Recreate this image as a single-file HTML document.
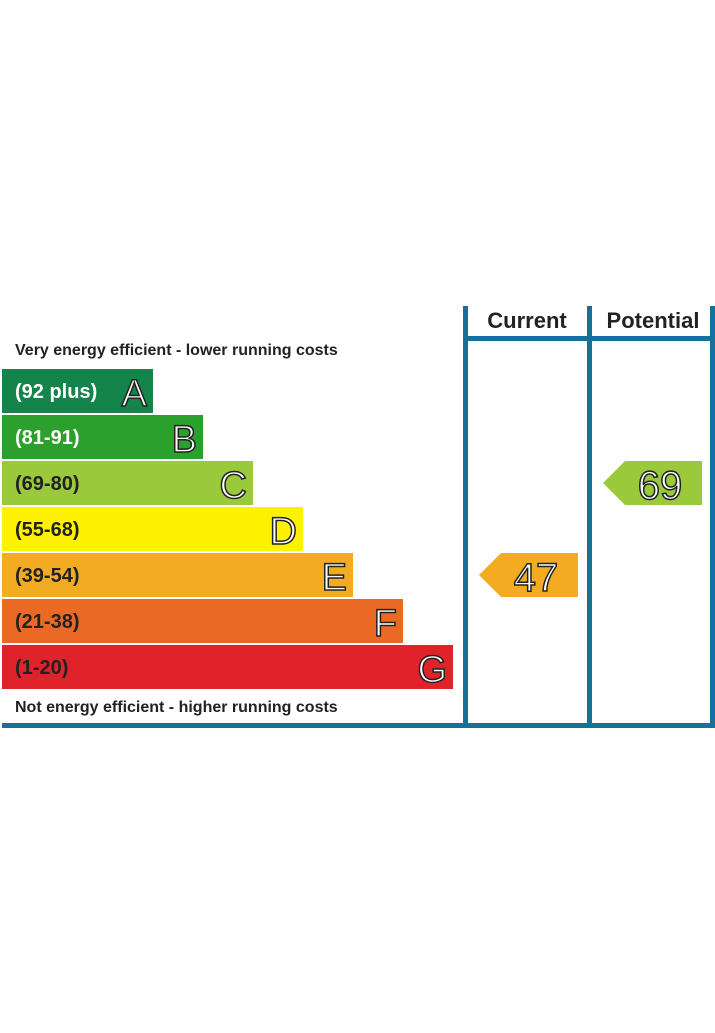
<!DOCTYPE html>
<html><head><meta charset="utf-8"><style>
html,body{margin:0;padding:0;background:#fff;}
svg{display:block;font-family:"Liberation Sans",Arial,sans-serif;}
</style></head><body>
<svg id="c" width="715" height="1033" viewBox="0 0 715 1033">
<g fill="#17709b">
<rect x="463" y="306" width="5" height="422"/>
<rect x="587" y="306" width="5" height="422"/>
<rect x="710" y="306" width="5" height="422"/>
<rect x="463" y="336" width="252" height="5"/>
<rect x="2" y="723" width="713" height="5"/>
</g>
<text x="527" y="328" text-anchor="middle" font-size="22" font-weight="bold" fill="#222">Current</text>
<text x="653" y="328" text-anchor="middle" font-size="22" font-weight="bold" fill="#222">Potential</text>
<text x="15" y="355" font-size="16" font-weight="bold" fill="#222">Very energy efficient - lower running costs</text>
<text x="15" y="712" font-size="16" font-weight="bold" fill="#222">Not energy efficient - higher running costs</text>
<g id="bands"></g>
<g id="arrows"></g>
</svg>
<script>
const letters=["A","B","C","D","E","F","G"];
const ranges=["(92 plus)","(81-91)","(69-80)","(55-68)","(39-54)","(21-38)","(1-20)"];
const mins=[92,81,69,55,39,21,1];
const colors=["#14844a","#2ca02c","#9bc93c","#fff200","#f3ac22","#ea6a25","#e0232b"];
const currentValue=47;
const potentialValue=69;
const ns="http://www.w3.org/2000/svg";
const bands=document.getElementById('bands'),arrows=document.getElementById('arrows');
function rowY(i){return 369+i*46;}
function barW(i){return 151+i*50;}
function bandOf(v){for(let i=0;i<mins.length;i++){if(v>=mins[i])return i;}return 6;}
letters.forEach((L,i)=>{
 const y=rowY(i);
 const r=document.createElementNS(ns,'rect');
 r.setAttribute('x',2);r.setAttribute('y',y);r.setAttribute('width',barW(i));r.setAttribute('height',44);r.setAttribute('fill',colors[i]);
 
 
 bands.appendChild(r);
 const t=document.createElementNS(ns,'text');
 t.setAttribute('x',15);t.setAttribute('y',y+29);t.setAttribute('font-size',20);t.setAttribute('font-weight','bold');
 t.setAttribute('fill',i===0?'#fff':'#222');
 if(i===1)t.setAttribute('fill','#fff');
 t.textContent=ranges[i];
 
 
 bands.appendChild(t);
 const l=document.createElementNS(ns,'text');
 l.setAttribute('x',2+barW(i)-6);l.setAttribute('y',y+37);l.setAttribute('text-anchor','end');l.setAttribute('font-size',38);
 l.setAttribute('fill','#fff');l.setAttribute('stroke','#222');l.setAttribute('stroke-width','1.5');
 l.textContent=L;
 
 
 bands.appendChild(l);
});
function arrow(v,x0,name){
 const i=bandOf(v),y=rowY(i);
 const p=document.createElementNS(ns,'polygon');
 p.setAttribute('points',`${x0},${y+22} ${x0+22},${y} ${x0+99},${y} ${x0+99},${y+44} ${x0+22},${y+44}`);
 p.setAttribute('fill',colors[i]);
 
 
 arrows.appendChild(p);
 const t=document.createElementNS(ns,'text');
 t.setAttribute('x',x0+57);t.setAttribute('y',y+38);t.setAttribute('text-anchor','middle');t.setAttribute('font-size',40);
 t.setAttribute('fill','#fff');t.setAttribute('stroke','#222');t.setAttribute('stroke-width','1.5');
 t.textContent=v;
 
 
 arrows.appendChild(t);
}
arrow(currentValue,479,'current');
arrow(potentialValue,603,'potential');
</script>
</body></html>
